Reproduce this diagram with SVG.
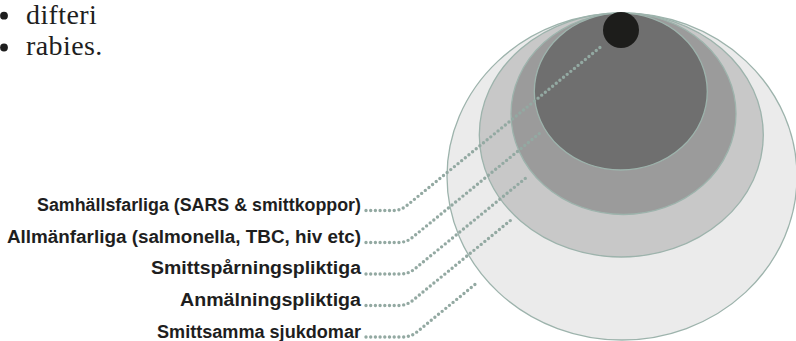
<svg xmlns="http://www.w3.org/2000/svg" width="796" height="341" viewBox="0 0 796 341">
  <style>
    .ring { stroke: #9db3ac; stroke-width: 1.3; }
    .lbl { font-family: "Liberation Sans", Arial, sans-serif; font-weight: bold; font-size: 18.8px; fill: #1e1e1e; text-anchor: end; }
    .bul { font-family: "Liberation Serif", "Times New Roman", serif; font-size: 28px; fill: #1e1e1e; letter-spacing: 0.4px; }
    .dot { fill: none; stroke: #93a9a2; stroke-width: 3.4; stroke-linecap: round; stroke-dasharray: 0 4.7; }
  </style>
  <rect width="796" height="341" fill="#ffffff"/>
  <g id="bullets">
    <circle cx="4" cy="15.7" r="3.9" fill="#1e1e1e"/>
    <text class="bul" x="26" y="23.5">difteri</text>
    <circle cx="4" cy="47.5" r="3.9" fill="#1e1e1e"/>
    <text class="bul" x="26" y="54.5">rabies.</text>
  </g>
  <g id="ring-smittsamma">
    <ellipse class="ring" cx="622" cy="176.5" rx="175" ry="163.5" fill="#ebebeb"/>
  </g>
  <g id="ring-anmalnings">
    <ellipse class="ring" cx="621.3" cy="135" rx="142" ry="122" fill="#c8c8c8"/>
  </g>
  <g id="ring-smittsparnings">
    <ellipse class="ring" cx="623.5" cy="113.8" rx="112.5" ry="100.7" fill="#9b9b9b"/>
  </g>
  <g id="ring-allmanfarliga">
    <ellipse class="ring" cx="620.8" cy="91.6" rx="86.5" ry="78.4" fill="#6f6f6f"/>
  </g>
  <g id="ring-samhallsfarliga">
    <circle cx="621" cy="30" r="18" fill="#1d1d1b"/>
  </g>
  <g id="connectors">
    <path class="dot" d="M366 210.5 H393 Q401 210.5 407 205.4 L603 45"/>
    <path class="dot" d="M366 242.5 H398 Q406.5 242.5 412.5 237.4 L540 133"/>
    <path class="dot" d="M366 274 H400 Q408.7 274 414.7 268.9 L527 177"/>
    <path class="dot" d="M366 305.5 H398 Q406.7 305.5 412.7 300.4 L511 220"/>
    <path class="dot" d="M366 337 H402 Q411 337 417 331.9 L478 282"/>
  </g>
  <g id="labels">
    <text class="lbl" x="361" y="211" textLength="324" lengthAdjust="spacingAndGlyphs">Samhällsfarliga (SARS &amp; smittkoppor)</text>
    <text class="lbl" x="361" y="242.7" textLength="354" lengthAdjust="spacingAndGlyphs">Allmänfarliga (salmonella, TBC, hiv etc)</text>
    <text class="lbl" x="361" y="274.4" textLength="210" lengthAdjust="spacingAndGlyphs">Smittspårningspliktiga</text>
    <text class="lbl" x="361" y="306.1" textLength="181" lengthAdjust="spacingAndGlyphs">Anmälningspliktiga</text>
    <text class="lbl" x="361" y="337.8" textLength="204" lengthAdjust="spacingAndGlyphs">Smittsamma sjukdomar</text>
  </g>
</svg>
